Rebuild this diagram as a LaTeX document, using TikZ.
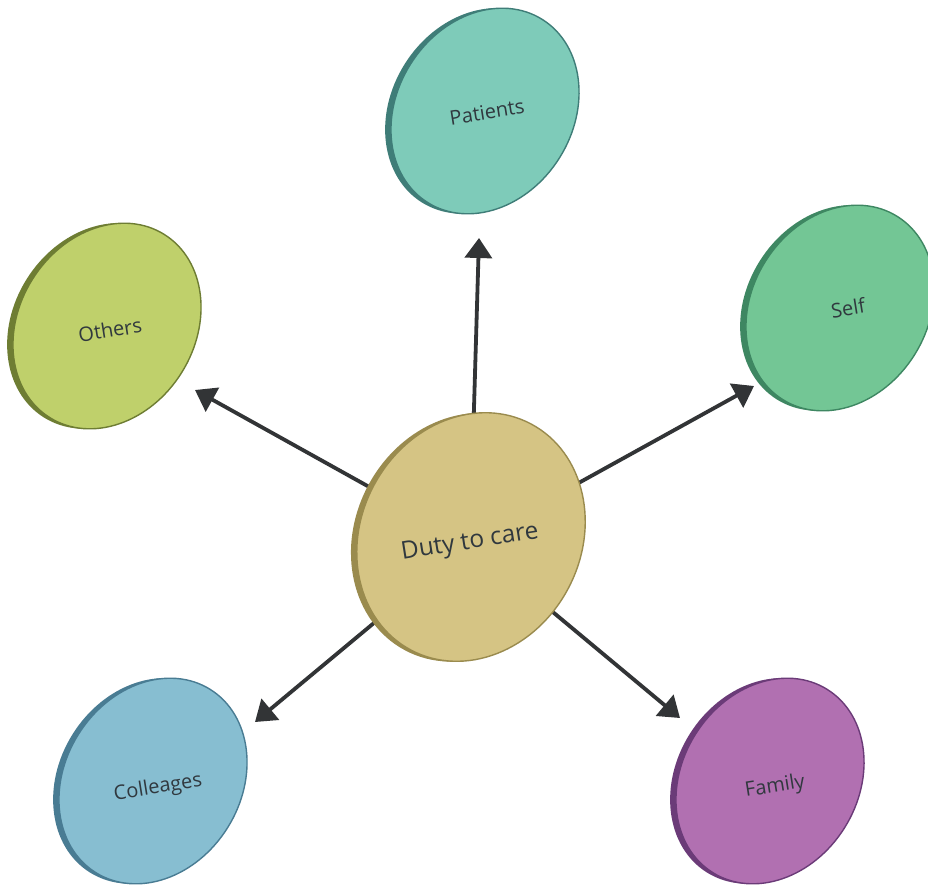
\documentclass[tikz,border=0pt]{standalone}
\usepackage{fontspec}
\newfontfamily\labfont{Open Sans}
\usetikzlibrary{arrows.meta,backgrounds}
\definecolor{dcF}{HTML}{D5C484}\definecolor{dcR}{HTML}{9A8B4E}
\definecolor{paF}{HTML}{7ECBB9}\definecolor{paR}{HTML}{3F7D78}
\definecolor{otF}{HTML}{BFD06B}\definecolor{otR}{HTML}{6E7D33}
\definecolor{seF}{HTML}{73C695}\definecolor{seR}{HTML}{3E8762}
\definecolor{coF}{HTML}{87BED1}\definecolor{coR}{HTML}{497C93}
\definecolor{faF}{HTML}{B170B1}\definecolor{faR}{HTML}{6B3B78}
\definecolor{arr}{HTML}{323436}
\definecolor{txt}{HTML}{30383E}
\tikzset{
  lab/.style={text=txt, rotate=9, inner sep=1pt, font=\labfont\fontsize{20}{23}\selectfont},
  biglab/.style={lab, circle, minimum size=190pt, inner sep=0pt, font=\labfont\fontsize{24.5}{28}\selectfont},
  arrow/.style={draw=arr, line width=3.8pt, -{Triangle[length=20pt,width=27pt]}},
  face/.style={line width=1.4pt}
}
% #1,#2 centre, #3 face colour, #4 rim colour, #5 a, #6 b, #7 angle
\newcommand{\mydisc}[7]{%
  \fill[#4, rotate around={#7:(#1,#2)}] (#1-5,#2+3) ellipse [x radius=#5, y radius=-#6];
  \filldraw[face, fill=#3, draw=#4, rotate around={#7:(#1,#2)}] (#1,#2) ellipse [x radius=#5, y radius=-#6];}
\begin{document}
\begin{tikzpicture}[x=1pt,y=-1pt]
\useasboundingbox (0,0) rectangle (928,884);
% tips
\coordinate (tP) at (479,238);
\coordinate (tO) at (195,390);
\coordinate (tS) at (754,386);
\coordinate (tC) at (255,722);
\coordinate (tF) at (680,718);
% discs
\mydisc{485}{111}{paF}{paR}{88}{108}{-32}
\mydisc{107}{326}{otF}{otR}{88}{108}{-32}
\mydisc{840}{308}{seF}{seR}{88}{108}{-32}
\mydisc{153}{781}{coF}{coR}{88}{108}{-32}
\mydisc{770}{781}{faF}{faR}{88}{108}{-32}
\mydisc{471}{537}{dcF}{dcR}{110}{128}{-28}
% labels
\node[biglab] (dc) at (470,543) {Duty to care};
\node[lab] (pa) at (487,112) {Patients};
\node[lab] (ot) at (110,330) {Others};
\node[lab] (se) at (848,308) {Self};
\node[lab] (co) at (158,788) {Colleages};
\node[lab] (fa) at (775,787) {Family};
% arrows (under the discs)
\begin{scope}[on background layer]
\fill[white] (0,0) rectangle (928,884);
\draw[arrow] (dc) -- (tP);
\draw[arrow] (dc) -- (tO);
\draw[arrow] (dc) -- (tS);
\draw[arrow] (dc) -- (tC);
\draw[arrow] (dc) -- (tF);
\end{scope}
\end{tikzpicture}
\end{document}
